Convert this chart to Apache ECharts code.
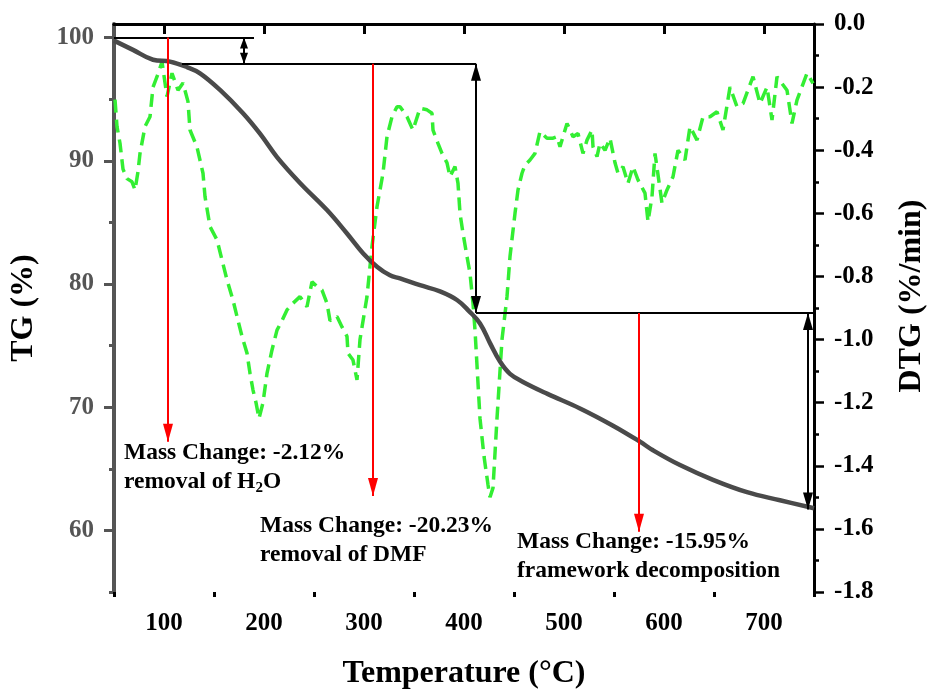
<!DOCTYPE html>
<html>
<head>
<meta charset="utf-8">
<title>TG / DTG</title>
<script src="https://cdn.jsdelivr.net/npm/echarts@6/dist/echarts.min.js"></script>
<style>
  html, body { margin: 0; padding: 0; background: #fff; }
  #chart { width: 927px; height: 691px; }
</style>
</head>
<body>
<div id="chart"></div>
<script>
// Thermogravimetric curve: temperature (°C) and remaining mass (%)
const tgTemp = [50, 69, 89, 106, 123, 136, 156, 179, 196, 213, 236, 263, 283, 299, 313, 326, 336, 356, 376, 393, 405, 416, 426, 436, 446, 459, 483, 516, 549, 576, 589, 616, 649, 683, 716, 750];
const tgMass = [99.75, 99.0, 98.2, 98.05, 97.6, 97.1, 95.75, 93.86, 92.2, 90.3, 88.2, 86.0, 84.1, 82.5, 81.4, 80.7, 80.45, 79.9, 79.4, 78.7, 77.8, 76.8, 75.2, 73.7, 72.7, 72.05, 71.1, 69.9, 68.5, 67.2, 66.5, 65.3, 64.1, 63.1, 62.45, 61.8];

// Derivative curve: temperature (°C) and mass-loss rate (%/min)
const dtgTemp = [51, 53, 56, 59, 63, 68, 71, 74, 76, 81, 86, 89, 93, 98, 103, 108, 114, 119, 124, 126, 133, 139, 141, 146, 153, 158, 163, 169, 173, 178, 183, 186, 189, 192, 195, 199, 203, 208, 213, 218, 223, 229, 236, 243, 248, 253, 258, 263, 266, 273, 278, 283, 284, 289, 293, 296, 303, 308, 313, 319, 323, 328, 333, 336, 343, 349, 356, 363, 368, 369, 374, 378, 383, 386, 391, 394, 396, 399, 403, 406, 409, 411, 416, 420, 424, 426, 429, 433, 438, 443, 446, 451, 454, 458, 461, 466, 471, 476, 483, 489, 493, 496, 503, 509, 514, 519, 523, 528, 529, 533, 536, 541, 546, 551, 554, 559, 564, 569, 574, 581, 584, 588, 591, 598, 603, 609, 614, 621, 626, 633, 639, 646, 653, 659, 666, 673, 679, 689, 696, 703, 708, 713, 723, 728, 733, 743, 749];
const dtgRate = [-0.24, -0.325, -0.378, -0.46, -0.49, -0.5, -0.526, -0.468, -0.41, -0.325, -0.294, -0.2, -0.167, -0.12, -0.23, -0.156, -0.21, -0.187, -0.246, -0.336, -0.39, -0.473, -0.547, -0.642, -0.684, -0.748, -0.811, -0.875, -0.927, -0.99, -1.043, -1.107, -1.16, -1.2, -1.25, -1.2, -1.107, -1.033, -0.97, -0.94, -0.906, -0.885, -0.864, -0.896, -0.817, -0.832, -0.843, -0.885, -0.94, -0.927, -0.96, -0.99, -1.043, -1.065, -1.128, -1.0, -0.864, -0.705, -0.579, -0.473, -0.357, -0.294, -0.262, -0.262, -0.294, -0.336, -0.267, -0.272, -0.283, -0.336, -0.378, -0.41, -0.44, -0.484, -0.452, -0.505, -0.6, -0.663, -0.737, -0.79, -0.885, -0.97, -1.25, -1.37, -1.46, -1.5, -1.47, -1.25, -1.0, -0.864, -0.737, -0.6, -0.526, -0.473, -0.447, -0.431, -0.41, -0.341, -0.362, -0.362, -0.357, -0.389, -0.315, -0.357, -0.347, -0.41, -0.368, -0.336, -0.389, -0.42, -0.378, -0.4, -0.362, -0.44, -0.473, -0.452, -0.505, -0.452, -0.494, -0.536, -0.626, -0.547, -0.41, -0.568, -0.526, -0.484, -0.4, -0.431, -0.325, -0.368, -0.294, -0.294, -0.278, -0.336, -0.2, -0.262, -0.252, -0.167, -0.252, -0.2, -0.304, -0.167, -0.21, -0.315, -0.241, -0.156, -0.188];

// Mass-loss steps and what each one is attributed to
const stepChange = [-2.12, -20.23, -15.95];
const stepCause = ['removal of H{s|2}O', 'removal of DMF', 'framework decomposition'];

// Tick labels
const tempTicks = [100, 200, 300, 400, 500, 600, 700];
const tempMinorTicks = [50, 150, 250, 350, 450, 550, 650, 750];
const massTicks = [60, 70, 80, 90, 100];
const massMinorTicks = [55, 65, 75, 85, 95];

// ---- placement of the annotation marks (temperatures / mass levels) ----
const startMass = 100;
const levels = [startMass];
stepChange.forEach((d, i) => levels.push(+(levels[i] + d).toFixed(2)));

const guideSpans = [[50, 190], [118, 412], [412, 750]];   // horizontal level lines
const spanArrowT = [180, 412, 744];                      // black double arrows
const pointerT = [104, 309, 575];                        // red pointers
const pointerEnd = [67.2, 62.8, 59.9];                   // where each pointer stops (TG %)
const noteAnchor = [[60, 67.5], [196, 61.57], [453, 60.25]];

const FONT = "'Liberation Serif', 'Times New Roman', serif";

const marks = [];
guideSpans.forEach((s, i) => {
  const ls = { color: '#000', width: 2, type: 'solid' };
  marks.push([
    { coord: [s[0], levels[i]], symbol: 'none', lineStyle: ls },
    { coord: [s[1], levels[i]], symbol: 'none', lineStyle: ls }
  ]);
});
spanArrowT.forEach((t, i) => {
  const ls = { color: '#000', width: 2, type: 'solid' };
  const sz = i === 0 ? [8, 11] : [10, 17];
  marks.push([
    { coord: [t, levels[i]], symbol: 'triangle', symbolSize: sz, lineStyle: ls },
    { coord: [t, levels[i + 1]], symbol: 'triangle', symbolSize: sz, lineStyle: ls }
  ]);
});
pointerT.forEach((t, i) => {
  const ls = { color: '#ff0000', width: 2, type: 'solid' };
  marks.push([
    { coord: [t, levels[i]], symbol: 'none', lineStyle: ls },
    { coord: [t, pointerEnd[i]], symbol: 'triangle', symbolSize: [10, 18], lineStyle: ls,
      itemStyle: { color: '#ff0000' } }
  ]);
});

const noteData = noteAnchor.map((p, i) => ({
  value: p,
  label: {
    formatter: '{a|Mass Change: ' + stepChange[i].toFixed(2) + '%}\n{a|' +
      stepCause[i].replace('H{s|2}O', 'H}{s|2}{a|O') + '}'
  }
}));

const chart = echarts.init(document.getElementById('chart'), null, { renderer: 'canvas' });

const tickLabel = (color) => ({
  fontFamily: FONT, fontWeight: 'bold', fontSize: 25, color: color
});
const titleStyle = (size) => ({
  fontFamily: FONT, fontWeight: 'bold', fontSize: size, color: '#000'
});

chart.setOption({
  animation: false,
  backgroundColor: '#fff',
  grid: { left: 114, right: 113, top: 24, bottom: 99, containLabel: false, outerBoundsMode: 'none' },
  xAxis: [
    {
      type: 'value', position: 'bottom', min: 50, max: 750, interval: 50,
      axisLine: { show: true, lineStyle: { color: '#000', width: 3 } },
      axisTick: { show: true, customValues: tempTicks, length: 10, lineStyle: { color: '#000', width: 3 } },
      axisLabel: Object.assign({ customValues: tempTicks, margin: 19 }, tickLabel('#000')),
      splitLine: { show: false },
      name: 'Temperature (°C)', nameLocation: 'middle', nameGap: 66, nameMoveOverlap: false,
      nameTextStyle: titleStyle(32)
    },
    {
      type: 'value', position: 'bottom', min: 50, max: 750, interval: 50,
      axisLine: { show: false },
      axisTick: { show: true, customValues: tempMinorTicks, length: 5, lineStyle: { color: '#000', width: 3 } },
      axisLabel: { show: false }, splitLine: { show: false }
    },
    {
      type: 'value', position: 'top', min: 50, max: 750, interval: 50,
      axisLine: { show: true, lineStyle: { color: '#000', width: 2.5 } },
      axisTick: { show: false }, axisLabel: { show: false }, splitLine: { show: false }
    }
  ],
  yAxis: [
    {
      type: 'value', position: 'left', min: 55, max: 101.1, interval: 5,
      axisLine: { show: true, lineStyle: { color: '#555', width: 4 } },
      axisTick: { show: true, customValues: massTicks, length: 10, lineStyle: { color: '#555', width: 3 } },
      axisLabel: Object.assign({ customValues: massTicks, margin: 20 }, tickLabel('#555')),
      splitLine: { show: false },
      name: 'TG (%)', nameLocation: 'middle', nameRotate: 90, nameGap: 74, nameMoveOverlap: false,
      nameTextStyle: titleStyle(32)
    },
    {
      type: 'value', position: 'right', min: -1.8, max: 0, interval: 0.2,
      axisLine: { show: true, lineStyle: { color: '#000', width: 3 } },
      axisTick: { show: true, length: 10, lineStyle: { color: '#000', width: 2.5 } },
      minorTick: { show: true, splitNumber: 2, length: 5, lineStyle: { color: '#000', width: 2.5 } },
      axisLabel: Object.assign({ margin: 20, formatter: v => (Math.abs(v) < 1e-9 ? 0 : v).toFixed(1) }, tickLabel('#000')),
      splitLine: { show: false },
      name: 'DTG (%/min)', nameLocation: 'middle', nameRotate: 90, nameGap: 82, nameMoveOverlap: false,
      nameTextStyle: Object.assign({ padding: [0, 0, 0, 24] }, titleStyle(32))
    },
    {
      type: 'value', position: 'left', min: 55, max: 101.1, interval: 5,
      axisLine: { show: false },
      axisTick: { show: true, customValues: massMinorTicks, length: 5, lineStyle: { color: '#555', width: 3 } },
      axisLabel: { show: false }, splitLine: { show: false }
    }
  ],
  series: [
    {
      name: 'DTG', type: 'line', xAxisIndex: 0, yAxisIndex: 1, z: 2,
      data: dtgTemp.map((t, i) => [t, dtgRate[i]]),
      showSymbol: false, symbol: 'none',
      lineStyle: { color: '#33ee33', width: 3.5, type: [13, 7] }
    },
    {
      name: 'TG', type: 'line', xAxisIndex: 0, yAxisIndex: 0, z: 3,
      data: tgTemp.map((t, i) => [t, tgMass[i]]),
      showSymbol: false, symbol: 'none', smooth: 0.4,
      lineStyle: { color: '#4a4a4a', width: 4.5 }
    },
    {
      name: 'marks', type: 'line', xAxisIndex: 0, yAxisIndex: 0, z: 4,
      data: [], showSymbol: false,
      markLine: {
        silent: true, animation: false,
        symbolOffset: [[0, '50%'], [0, '50%']],
        label: { show: false },
        emphasis: { disabled: true },
        itemStyle: { color: '#000' },
        data: marks
      }
    },
    {
      name: 'notes', type: 'scatter', xAxisIndex: 0, yAxisIndex: 0, z: 5,
      symbolSize: 0, silent: true,
      itemStyle: { color: 'rgba(0,0,0,0)', opacity: 1 },
      data: noteData,
      label: {
        show: true, position: [0, 0], align: 'left', verticalAlign: 'top',
        color: '#000', textBorderWidth: 0, opacity: 1,
        rich: {
          a: { fontFamily: FONT, fontWeight: 'bold', fontSize: 23.5, lineHeight: 29, color: '#000', textBorderWidth: 0 },
          s: { fontFamily: FONT, fontWeight: 'bold', fontSize: 15, lineHeight: 15, verticalAlign: 'bottom', color: '#000', textBorderWidth: 0 }
        }
      }
    }
  ]
});
</script>
</body>
</html>
